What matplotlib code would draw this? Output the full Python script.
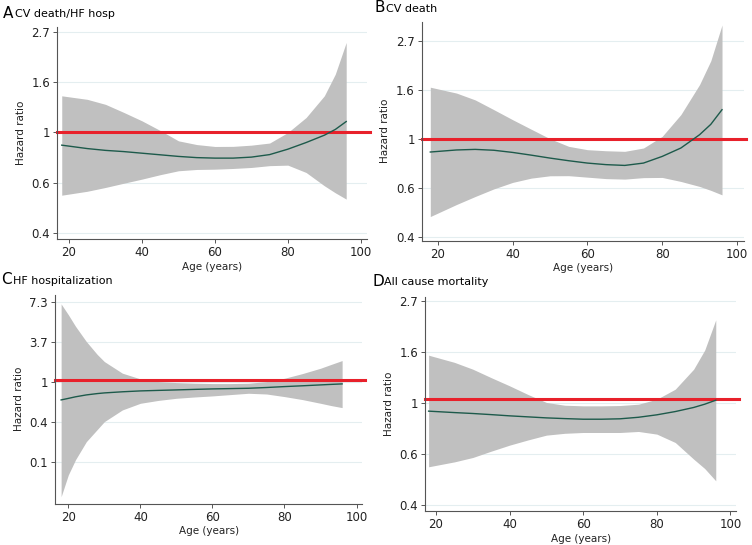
import numpy as np
from matplotlib import pyplot as plt

# data (y values in log hazard ratio units, as drawn on the axis) ---------
ages = [18, 25, 30, 35, 40, 45, 50, 55, 60, 65, 70, 75, 80, 85, 90, 93, 96]
ages_c = [18, 20, 22, 25, 28, 30, 35, 40, 45, 50, 55, 60, 65, 70, 75, 80, 85, 90, 93, 96]

a_fit = [-0.126, -0.16, -0.178, -0.19, -0.206, -0.222, -0.238, -0.25, -0.255, -0.255, -0.245, -0.22, -0.166, -0.10, -0.027, 0.03, 0.109]
a_hi = [0.365, 0.33, 0.28, 0.20, 0.116, 0.02, -0.083, -0.12, -0.139, -0.138, -0.126, -0.105, 0.0, 0.149, 0.365, 0.58, 0.896]
a_lo = [-0.624, -0.585, -0.547, -0.505, -0.464, -0.42, -0.381, -0.368, -0.365, -0.358, -0.348, -0.33, -0.325, -0.398, -0.53, -0.60, -0.663]

b_fit = [-0.133, -0.112, -0.106, -0.115, -0.137, -0.165, -0.195, -0.222, -0.246, -0.262, -0.27, -0.246, -0.178, -0.092, 0.044, 0.15, 0.30]
b_hi = [0.53, 0.47, 0.40, 0.30, 0.198, 0.10, 0.003, -0.075, -0.109, -0.12, -0.126, -0.092, 0.027, 0.25, 0.557, 0.80, 1.166]
b_lo = [-0.793, -0.67, -0.588, -0.51, -0.444, -0.40, -0.376, -0.375, -0.39, -0.405, -0.41, -0.395, -0.393, -0.434, -0.485, -0.525, -0.571]

c_fit = [-0.458, -0.42, -0.38, -0.333, -0.30, -0.283, -0.255, -0.233, -0.22, -0.208, -0.195, -0.183, -0.175, -0.167, -0.148, -0.125, -0.105, -0.083, -0.07, -0.058]
c_hi = [1.94, 1.67, 1.38, 1.0, 0.68, 0.5, 0.21, 0.067, 0.0, -0.025, -0.04, -0.05, -0.05, -0.042, 0.0, 0.083, 0.2, 0.333, 0.43, 0.525]
c_lo = [-2.875, -2.33, -1.95, -1.5, -1.2, -1.0, -0.708, -0.542, -0.47, -0.417, -0.385, -0.358, -0.325, -0.292, -0.31, -0.375, -0.45, -0.542, -0.6, -0.65]

d_fit = [-0.078, -0.092, -0.101, -0.112, -0.124, -0.134, -0.144, -0.151, -0.157, -0.157, -0.153, -0.138, -0.114, -0.082, -0.042, -0.01, 0.029]
d_hi = [0.47, 0.40, 0.333, 0.25, 0.17, 0.085, 0.007, -0.02, -0.026, -0.026, -0.023, -0.01, 0.039, 0.137, 0.333, 0.52, 0.816]
d_lo = [-0.623, -0.575, -0.532, -0.47, -0.411, -0.36, -0.313, -0.295, -0.287, -0.287, -0.287, -0.277, -0.303, -0.385, -0.548, -0.64, -0.76]

ticks_std = [-1, -0.5, 0, 0.5, 1]
labels_std = ['0.4', '0.6', '1', '1.6', '2.7']
ticks_c = [-2, -1, 0, 1, 2]
labels_c = ['0.1', '0.4', '1', '3.7', '7.3']
x_ticks = [20, 40, 60, 80, 100]

# panel setup: letter, title, x, fit, hi, lo, ref line, yticks, labels, box(px), xlim, ylim
panels = [
    ('A', 'CV death/HF hosp', ages, a_fit, a_hi, a_lo, 0.0, ticks_std, labels_std,
     (57, 27, 367, 239), (16.7, 101.7), (-1.06, 1.05), (3, 13)),
    ('B', 'CV death', ages, b_fit, b_hi, b_lo, 0.0, ticks_std, labels_std,
     (421.7, 21.7, 743.7, 240.7), (15.7, 101.8), (-1.04, 1.2), (374, 8)),
    ('C', 'HF hospitalization', ages_c, c_fit, c_hi, c_lo, 0.04, ticks_c, labels_c,
     (55, 294.7, 362.3, 503.7), (16.3, 101.6), (-3.05, 2.17), (1, 280)),
    ('D', 'All cause mortality', ages, d_fit, d_hi, d_lo, 0.04, ticks_std, labels_std,
     (425.3, 297, 736, 511), (17.1, 101.5), (-1.056, 1.04), (372, 281)),
]

W, H = 752, 545
fig = plt.figure(figsize=(W / 100, H / 100), dpi=100)

for letter, title, x, fit, hi, lo, ref, yt, yl, box, xl, yli, tpos in panels:
    l, t, r, b = box
    ax = fig.add_axes([l / W, 1 - b / H, (r - l) / W, (b - t) / H])
    for yv in yt:
        ax.axhline(yv, color='#e4eef0', lw=0.8, zorder=0)
    ax.fill_between(x, lo, hi, color='#c0c0c0', lw=0, zorder=1)
    ax.plot(x, fit, color='#1d5a4b', lw=1.0, zorder=3)
    ax.plot([xl[0], xl[1] + 0.7], [ref, ref], color='#e8212b', lw=2.2,
            zorder=2, clip_on=False)
    ax.set_xlim(xl)
    ax.set_ylim(yli)
    ax.set_xticks(x_ticks)
    ax.set_yticks(yt)
    ax.set_yticklabels(yl)
    ax.tick_params(axis='both', labelsize=8.5, color='#555555', length=3,
                   width=0.7, labelcolor='#222222', pad=2)
    for s in ['top', 'right']:
        ax.spines[s].set_visible(False)
    for s in ['left', 'bottom']:
        ax.spines[s].set_color('#555555')
        ax.spines[s].set_linewidth(0.8)
    ax.set_xlabel('Age (years)', fontsize=7.5, color='#222222', labelpad=2)
    ax.set_ylabel('Hazard ratio', fontsize=7.5, color='#222222', labelpad=4)

    fig.text(tpos[0] / W, 1 - tpos[1] / H, letter, fontsize=11, va='center', ha='left')
    fig.text((tpos[0] + 12) / W, 1 - (tpos[1] + 1) / H, title, fontsize=8, va='center', ha='left')

fig.savefig('out.png', dpi=100)
